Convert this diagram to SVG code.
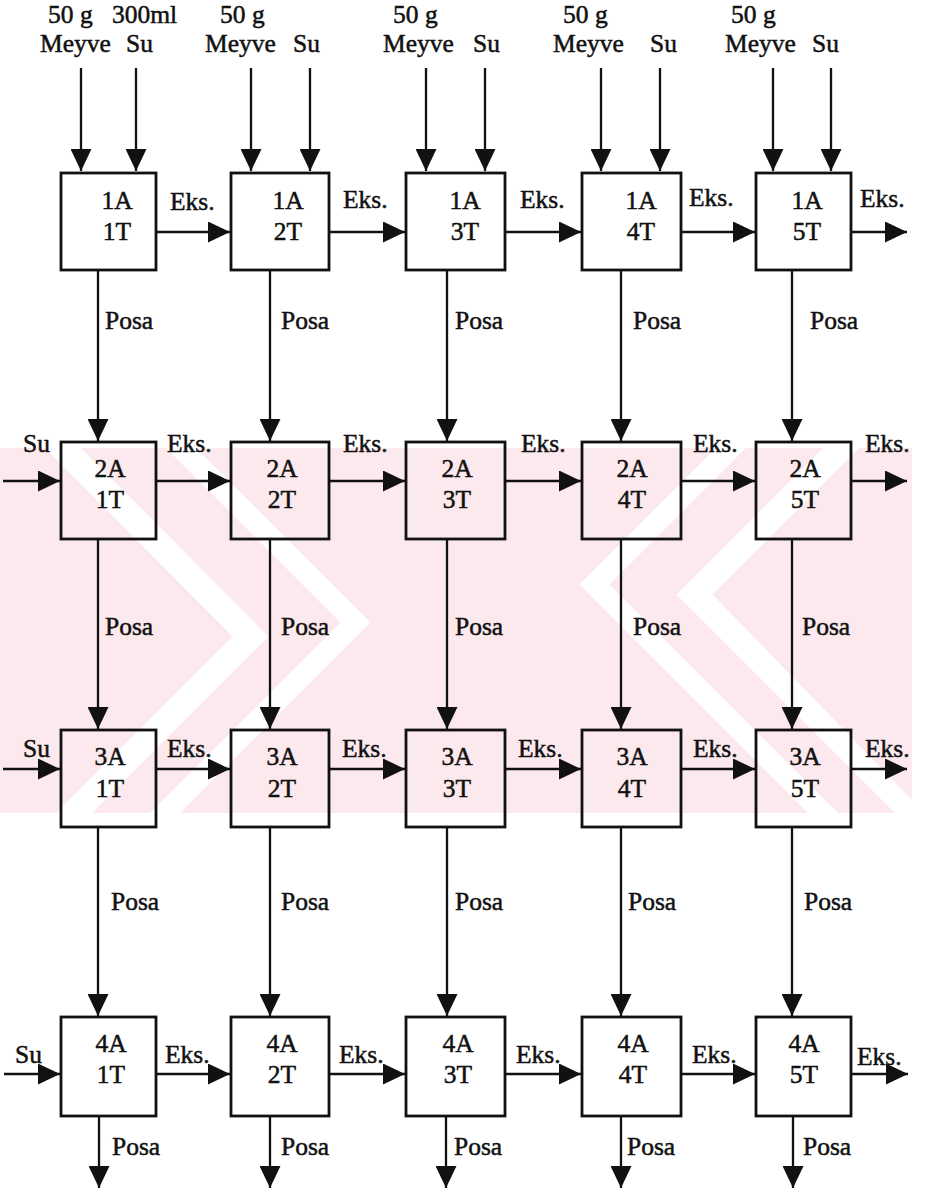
<svg xmlns="http://www.w3.org/2000/svg" width="926" height="1193" viewBox="0 0 926 1193">
<defs>
<style>
text{font-family:"Liberation Serif","Times New Roman",serif;font-size:25.5px;fill:#111;stroke:#111;stroke-width:0.5;}
.n{text-anchor:middle;}
.box{fill:none;stroke:#111;stroke-width:2.8;}
.ln{stroke:#111;stroke-width:2.3;fill:none;}
.wm{fill:#fce9ed;}
.wg{fill:#fff;}
</style>
<marker id="ah" viewBox="0 0 22 21" refX="22" refY="10.5" markerWidth="22" markerHeight="21" markerUnits="userSpaceOnUse" orient="auto">
<path d="M0,0 L22,10.5 L0,21 Z" fill="#111"/>
</marker>
</defs>
<rect width="926" height="1193" fill="#fff"/>

<g id="watermark">
<rect class="wm" x="0" y="448" width="912" height="365"/>
<polygon class="wg" points="81,448 268.5,636.5 92,813 56,813 232.5,636.5 45,448"/>
<polygon class="wg" points="196,448 370.5,622.5 180,813 150,813 340.5,622.5 166,448"/>
<polygon class="wg" points="823,448 676.5,594.5 895,813 912,813 912,800 712.5,594.5 859,448"/>
<polygon class="wg" points="716,448 579.5,584.5 808,813 838,813 609.5,584.5 746,448"/>
</g>

<g id="inputs">
<text x="48" y="23">50 g</text><text x="112" y="23">300ml</text>
<text x="220" y="23">50 g</text>
<text x="393" y="23">50 g</text>
<text x="563" y="23">50 g</text>
<text x="731" y="23">50 g</text>
<text x="40" y="52">Meyve</text><text x="126" y="52">Su</text>
<text x="205" y="52">Meyve</text><text x="293" y="52">Su</text>
<text x="383" y="52">Meyve</text><text x="473" y="52">Su</text>
<text x="553" y="52">Meyve</text><text x="650" y="52">Su</text>
<text x="725" y="52">Meyve</text><text x="812" y="52">Su</text>
</g>

<g id="connectors">
<line class="ln" x1="81" y1="68" x2="81" y2="171" marker-end="url(#ah)"/>
<line class="ln" x1="136" y1="68" x2="136" y2="171" marker-end="url(#ah)"/>
<line class="ln" x1="251" y1="68" x2="251" y2="171" marker-end="url(#ah)"/>
<line class="ln" x1="310" y1="68" x2="310" y2="171" marker-end="url(#ah)"/>
<line class="ln" x1="426" y1="68" x2="426" y2="171" marker-end="url(#ah)"/>
<line class="ln" x1="485" y1="68" x2="485" y2="171" marker-end="url(#ah)"/>
<line class="ln" x1="601" y1="68" x2="601" y2="171" marker-end="url(#ah)"/>
<line class="ln" x1="660" y1="68" x2="660" y2="171" marker-end="url(#ah)"/>
<line class="ln" x1="773" y1="68" x2="773" y2="171" marker-end="url(#ah)"/>
<line class="ln" x1="831" y1="68" x2="831" y2="171" marker-end="url(#ah)"/>

<line class="ln" x1="156" y1="232" x2="230" y2="232" marker-end="url(#ah)"/>
<line class="ln" x1="329" y1="232" x2="405" y2="232" marker-end="url(#ah)"/>
<line class="ln" x1="505" y1="232" x2="581" y2="232" marker-end="url(#ah)"/>
<line class="ln" x1="681" y1="232" x2="755" y2="232" marker-end="url(#ah)"/>
<line class="ln" x1="851" y1="232" x2="907" y2="232" marker-end="url(#ah)"/>

<line class="ln" x1="3" y1="481" x2="60" y2="481" marker-end="url(#ah)"/>
<line class="ln" x1="156" y1="481" x2="230" y2="481" marker-end="url(#ah)"/>
<line class="ln" x1="329" y1="481" x2="405" y2="481" marker-end="url(#ah)"/>
<line class="ln" x1="505" y1="481" x2="581" y2="481" marker-end="url(#ah)"/>
<line class="ln" x1="681" y1="481" x2="755" y2="481" marker-end="url(#ah)"/>
<line class="ln" x1="851" y1="481" x2="907" y2="481" marker-end="url(#ah)"/>

<line class="ln" x1="3" y1="769" x2="60" y2="769" marker-end="url(#ah)"/>
<line class="ln" x1="156" y1="769" x2="230" y2="769" marker-end="url(#ah)"/>
<line class="ln" x1="329" y1="769" x2="405" y2="769" marker-end="url(#ah)"/>
<line class="ln" x1="505" y1="769" x2="581" y2="769" marker-end="url(#ah)"/>
<line class="ln" x1="681" y1="769" x2="755" y2="769" marker-end="url(#ah)"/>
<line class="ln" x1="851" y1="769" x2="907" y2="769" marker-end="url(#ah)"/>

<line class="ln" x1="4" y1="1074" x2="60" y2="1074" marker-end="url(#ah)"/>
<line class="ln" x1="156" y1="1074" x2="230" y2="1074" marker-end="url(#ah)"/>
<line class="ln" x1="329" y1="1074" x2="405" y2="1074" marker-end="url(#ah)"/>
<line class="ln" x1="505" y1="1074" x2="581" y2="1074" marker-end="url(#ah)"/>
<line class="ln" x1="681" y1="1074" x2="755" y2="1074" marker-end="url(#ah)"/>
<line class="ln" x1="851" y1="1074" x2="908" y2="1074" marker-end="url(#ah)"/>

<line class="ln" x1="98" y1="270" x2="98" y2="441" marker-end="url(#ah)"/>
<line class="ln" x1="270" y1="270" x2="270" y2="441" marker-end="url(#ah)"/>
<line class="ln" x1="447" y1="270" x2="447" y2="441" marker-end="url(#ah)"/>
<line class="ln" x1="621" y1="270" x2="621" y2="441" marker-end="url(#ah)"/>
<line class="ln" x1="792" y1="270" x2="792" y2="441" marker-end="url(#ah)"/>

<line class="ln" x1="98" y1="539" x2="98" y2="729" marker-end="url(#ah)"/>
<line class="ln" x1="270" y1="539" x2="270" y2="729" marker-end="url(#ah)"/>
<line class="ln" x1="447" y1="539" x2="447" y2="729" marker-end="url(#ah)"/>
<line class="ln" x1="621" y1="539" x2="621" y2="729" marker-end="url(#ah)"/>
<line class="ln" x1="792" y1="539" x2="792" y2="729" marker-end="url(#ah)"/>

<line class="ln" x1="98" y1="827" x2="98" y2="1016" marker-end="url(#ah)"/>
<line class="ln" x1="270" y1="827" x2="270" y2="1016" marker-end="url(#ah)"/>
<line class="ln" x1="447" y1="827" x2="447" y2="1016" marker-end="url(#ah)"/>
<line class="ln" x1="621" y1="827" x2="621" y2="1016" marker-end="url(#ah)"/>
<line class="ln" x1="792" y1="827" x2="792" y2="1016" marker-end="url(#ah)"/>

<line class="ln" x1="99" y1="1116" x2="99" y2="1188" marker-end="url(#ah)"/>
<line class="ln" x1="270" y1="1116" x2="270" y2="1188" marker-end="url(#ah)"/>
<line class="ln" x1="446" y1="1116" x2="446" y2="1188" marker-end="url(#ah)"/>
<line class="ln" x1="621" y1="1116" x2="621" y2="1188" marker-end="url(#ah)"/>
<line class="ln" x1="793" y1="1116" x2="793" y2="1188" marker-end="url(#ah)"/>
</g>

<g id="labels">
<text x="170" y="210">Eks.</text><text x="343" y="208">Eks.</text><text x="520" y="208">Eks.</text><text x="689" y="206">Eks.</text><text x="860" y="207">Eks.</text>
<text x="23" y="452">Su</text>
<text x="167" y="452">Eks.</text><text x="343" y="452">Eks.</text><text x="521" y="452">Eks.</text><text x="693" y="452">Eks.</text><text x="865" y="452">Eks.</text>
<text x="23" y="757">Su</text>
<text x="167" y="757">Eks.</text><text x="342" y="757">Eks.</text><text x="518" y="757">Eks.</text><text x="693" y="757">Eks.</text><text x="865" y="757">Eks.</text>
<text x="15" y="1063">Su</text>
<text x="165" y="1063">Eks.</text><text x="339" y="1063">Eks.</text><text x="516" y="1063">Eks.</text><text x="692" y="1063">Eks.</text><text x="857" y="1065">Eks.</text>
<text x="105" y="329">Posa</text><text x="281" y="329">Posa</text><text x="455" y="329">Posa</text><text x="633" y="329">Posa</text><text x="810" y="329">Posa</text>
<text x="105" y="635">Posa</text><text x="281" y="635">Posa</text><text x="455" y="635">Posa</text><text x="633" y="635">Posa</text><text x="802" y="635">Posa</text>
<text x="111" y="910">Posa</text><text x="281" y="910">Posa</text><text x="455" y="910">Posa</text><text x="628" y="910">Posa</text><text x="804" y="910">Posa</text>
<text x="112" y="1155">Posa</text><text x="281" y="1155">Posa</text><text x="454" y="1155">Posa</text><text x="627" y="1155">Posa</text><text x="803" y="1155">Posa</text>
</g>

<g id="n1A1T"><rect class="box" x="61" y="173" width="95" height="97"/><text class="n" x="117" y="209">1A</text><text class="n" x="117" y="240">1T</text></g>
<g id="n1A2T"><rect class="box" x="231" y="173" width="98" height="97"/><text class="n" x="288" y="209">1A</text><text class="n" x="288" y="240">2T</text></g>
<g id="n1A3T"><rect class="box" x="406" y="173" width="99" height="97"/><text class="n" x="465" y="209">1A</text><text class="n" x="465" y="240">3T</text></g>
<g id="n1A4T"><rect class="box" x="582" y="173" width="99" height="97"/><text class="n" x="641" y="209">1A</text><text class="n" x="641" y="240">4T</text></g>
<g id="n1A5T"><rect class="box" x="756" y="173" width="95" height="97"/><text class="n" x="807" y="209">1A</text><text class="n" x="807" y="240">5T</text></g>

<g id="n2A1T"><rect class="box" x="61" y="442" width="95" height="97"/><text class="n" x="110" y="477">2A</text><text class="n" x="110" y="508">1T</text></g>
<g id="n2A2T"><rect class="box" x="231" y="442" width="98" height="97"/><text class="n" x="282" y="477">2A</text><text class="n" x="282" y="508">2T</text></g>
<g id="n2A3T"><rect class="box" x="406" y="442" width="99" height="97"/><text class="n" x="457" y="477">2A</text><text class="n" x="457" y="508">3T</text></g>
<g id="n2A4T"><rect class="box" x="582" y="442" width="99" height="97"/><text class="n" x="632" y="477">2A</text><text class="n" x="632" y="508">4T</text></g>
<g id="n2A5T"><rect class="box" x="756" y="442" width="95" height="97"/><text class="n" x="805" y="477">2A</text><text class="n" x="805" y="508">5T</text></g>

<g id="n3A1T"><rect class="box" x="61" y="730" width="95" height="97"/><text class="n" x="110" y="765">3A</text><text class="n" x="110" y="797">1T</text></g>
<g id="n3A2T"><rect class="box" x="231" y="730" width="98" height="97"/><text class="n" x="282" y="765">3A</text><text class="n" x="282" y="797">2T</text></g>
<g id="n3A3T"><rect class="box" x="406" y="730" width="99" height="97"/><text class="n" x="457" y="765">3A</text><text class="n" x="457" y="797">3T</text></g>
<g id="n3A4T"><rect class="box" x="582" y="730" width="99" height="97"/><text class="n" x="632" y="765">3A</text><text class="n" x="632" y="797">4T</text></g>
<g id="n3A5T"><rect class="box" x="756" y="730" width="95" height="97"/><text class="n" x="805" y="765">3A</text><text class="n" x="805" y="797">5T</text></g>

<g id="n4A1T"><rect class="box" x="61" y="1017" width="95" height="99"/><text class="n" x="111" y="1052">4A</text><text class="n" x="111" y="1083">1T</text></g>
<g id="n4A2T"><rect class="box" x="231" y="1017" width="98" height="99"/><text class="n" x="282" y="1052">4A</text><text class="n" x="282" y="1083">2T</text></g>
<g id="n4A3T"><rect class="box" x="406" y="1017" width="99" height="99"/><text class="n" x="458" y="1052">4A</text><text class="n" x="458" y="1083">3T</text></g>
<g id="n4A4T"><rect class="box" x="582" y="1017" width="99" height="99"/><text class="n" x="633" y="1052">4A</text><text class="n" x="633" y="1083">4T</text></g>
<g id="n4A5T"><rect class="box" x="756" y="1017" width="95" height="99"/><text class="n" x="804" y="1052">4A</text><text class="n" x="804" y="1083">5T</text></g>
</svg>
